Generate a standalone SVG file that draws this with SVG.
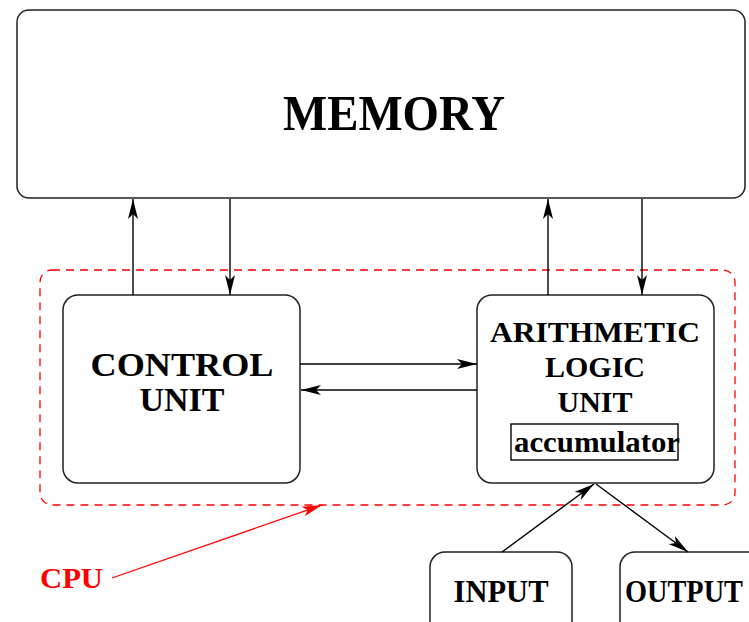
<svg xmlns="http://www.w3.org/2000/svg" width="749" height="622" viewBox="0 0 749 622">
<style>
.box{fill:#fff;stroke:#222;stroke-width:1.5}
.t{font-family:"Liberation Serif","Times New Roman",serif;font-weight:bold;fill:#000;text-anchor:middle}
.c{stroke:#000;stroke-width:1.4;fill:none}
</style>
<defs>
<marker id="ah" markerWidth="22" markerHeight="12" refX="20" refY="5" orient="auto" markerUnits="userSpaceOnUse" viewBox="0 0 22 10">
<path d="M0,0 L20,5 L0,10 L5,5 z" fill="#000"/>
</marker>
<marker id="ahr" markerWidth="22" markerHeight="12" refX="20" refY="5" orient="auto" markerUnits="userSpaceOnUse" viewBox="0 0 22 10">
<path d="M0,0 L20,5 L0,10 L5,5 z" fill="#f00"/>
</marker>
</defs>
<rect width="749" height="622" fill="#fff"/>
<g id="memory">
<rect class="box" x="17" y="10" width="728" height="188" rx="12" stroke="#555"/>
<text class="t" x="394" y="130" font-size="50" textLength="222" lengthAdjust="spacingAndGlyphs">MEMORY</text>
</g>
<g id="cpu">
<rect x="40" y="270" width="695" height="235" rx="12" fill="none" stroke="#f00" stroke-width="1.3" stroke-dasharray="8,6"/>
<text x="40" y="588" font-family="Liberation Serif, serif" font-weight="bold" font-size="29" fill="#f00" textLength="63" lengthAdjust="spacingAndGlyphs">CPU</text>
</g>
<g id="control-unit">
<rect class="box" x="63" y="295" width="237" height="188" rx="15"/>
<text class="t" x="182" y="376" font-size="34" textLength="183" lengthAdjust="spacingAndGlyphs">CONTROL</text>
<text class="t" x="182" y="411" font-size="34">UNIT</text>
</g>
<g id="alu">
<rect class="box" x="477" y="295" width="237" height="188" rx="15"/>
<text class="t" x="595" y="342" font-size="30" textLength="210" lengthAdjust="spacingAndGlyphs">ARITHMETIC</text>
<text class="t" x="595" y="377" font-size="30">LOGIC</text>
<text class="t" x="595" y="412" font-size="30">UNIT</text>
<rect x="511" y="424" width="167" height="36" fill="none" stroke="#000" stroke-width="1.4"/>
<text class="t" x="597" y="452" font-size="29" textLength="166" lengthAdjust="spacingAndGlyphs">accumulator</text>
</g>
<g id="input">
<rect class="box" x="430" y="552" width="142" height="90" rx="15"/>
<text class="t" x="501" y="602" font-size="32" textLength="95" lengthAdjust="spacingAndGlyphs">INPUT</text>
</g>
<g id="output">
<rect class="box" x="620" y="552" width="150" height="90" rx="15"/>
<text x="625" y="602" font-family="Liberation Serif, serif" font-weight="bold" font-size="32" textLength="118" lengthAdjust="spacingAndGlyphs">OUTPUT</text>
</g>
<g id="connectors">
<line class="c" x1="133" y1="295" x2="133" y2="199" marker-end="url(#ah)"/>
<line class="c" x1="230" y1="199" x2="230" y2="295" marker-end="url(#ah)"/>
<line class="c" x1="548" y1="295" x2="548" y2="199" marker-end="url(#ah)"/>
<line class="c" x1="642" y1="199" x2="642" y2="295" marker-end="url(#ah)"/>
<line class="c" x1="300" y1="364" x2="477" y2="364" marker-end="url(#ah)"/>
<line class="c" x1="477" y1="390" x2="301" y2="390" marker-end="url(#ah)"/>
<line class="c" x1="502" y1="552" x2="594" y2="484" marker-end="url(#ah)"/>
<line class="c" x1="596" y1="484" x2="688" y2="552" marker-end="url(#ah)"/>
<line x1="112" y1="578" x2="322" y2="505" stroke="#f00" stroke-width="1.3" marker-end="url(#ahr)"/>
</g>
</svg>
